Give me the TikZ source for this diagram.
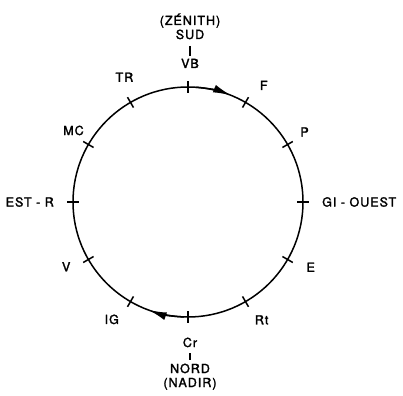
\documentclass[tikz,border=0pt]{standalone}
\usepackage{fontspec}
\setmainfont[LetterSpace=8, FakeBold=2]{TeX Gyre Heros}
\usetikzlibrary{arrows.meta}

\begin{document}
\begin{tikzpicture}[x=1pt, y=1pt,
    lbl/.style={inner sep=0pt, font=\fontsize{12.5}{14}\selectfont},
    stk/.style={lbl, anchor=base},
    cyc/.style={line width=1.5pt},
    tck/.style={line width=1.5pt},
    dir/.style={line width=1.5pt, -{Latex[length=18pt, width=8pt]}}]
    % Frame
    \useasboundingbox (-188,-193) rectangle (215,202);
    % Circle
    \draw[cyc] (0,0) circle (115);
    % Ticks every 30 degrees
    \foreach \a in {0, 30,...,359}
    \draw[tck] (\a:109) -- (\a:121);
    % Direction of motion
    \draw[dir] (86:115) arc (86:68:115);
    \draw[dir] (-92:115) arc (-92:-110:115);
    % Labels round the circle
    \node[lbl] (f) at (57:139) {F};
    \node[lbl] (p) at (31:136) {P};
    \node[lbl, anchor=west] (gi) at (0:134) {GI - OUEST};
    \node[lbl] (e) at (-28:139) {E};
    \node[lbl] (rt) at (-58:139) {Rt};
    \node[lbl] (ig) at (-123:140) {IG};
    \node[lbl] (v) at (-152:138) {V};
    \node[lbl, anchor=east] (est) at (180:134) {EST - R};
    \node[lbl] (mc) at (148:135) {MC};
    \node[lbl] (tr) at (117:140) {TR};
    % Top stack
    \node[stk] (vb) at (2,134) {VB};
    \node[stk] (sud) at (2,163) {SUD};
    \node[stk] (zen) at (2,177) {(ZÉNITH)};
    \draw[line width=1.3pt] ([yshift=-7pt]sud.base) -- ([yshift=12pt]vb.base);
    % Bottom stack
    \node[stk] (cr) at (2,-145) {Cr};
    \node[stk] (nord) at (2,-171) {NORD};
    \node[stk] (nad) at (2,-185) {(NADIR)};
    \draw[line width=1.3pt] ([yshift=-6pt]cr.base) -- ([yshift=13pt]nord.base);
\end{tikzpicture}
\end{document}
